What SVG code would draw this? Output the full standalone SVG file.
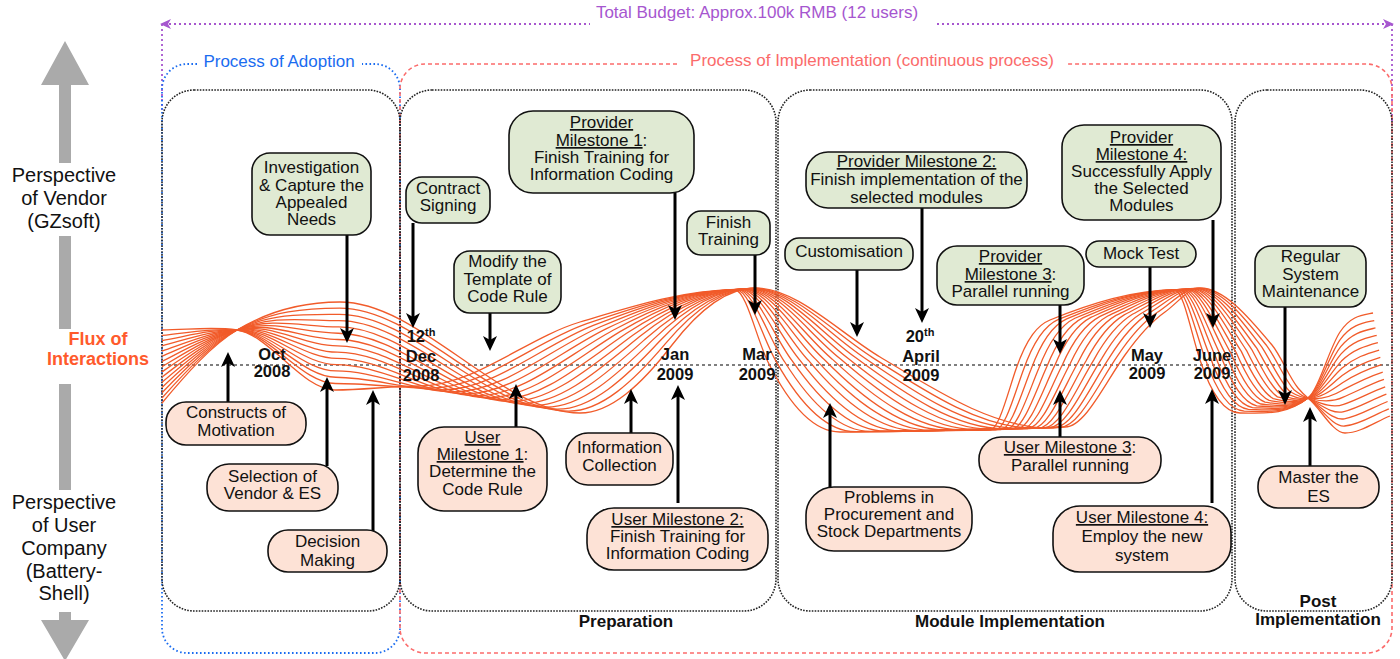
<svg xmlns="http://www.w3.org/2000/svg" width="1400" height="659" viewBox="0 0 1400 659">
<style>
text{font-family:"Liberation Sans",Arial,Helvetica,sans-serif}
.t{font-size:17px;text-anchor:middle;fill:#111}
.d{font-size:16.5px;font-weight:bold;text-anchor:middle;fill:#111}
.ph{font-size:17px;font-weight:bold;text-anchor:middle;fill:#111}
.side{font-size:20px;text-anchor:middle;fill:#111}
.g rect{fill:#e0ead3;stroke:#111;stroke-width:1.6}
.s rect{fill:#fde2d6;stroke:#111;stroke-width:1.6}
.u{text-decoration:underline}
.ar{stroke:#000;stroke-width:3;fill:none;marker-end:url(#ah)}
.phase{fill:none;stroke:#222;stroke-width:1.6;stroke-dasharray:1.6 1.3}
.w{fill:none;stroke:#f15b2a;stroke-width:1.3}
</style>
<defs>
<marker id="ah" markerUnits="userSpaceOnUse" markerWidth="16" markerHeight="16" viewBox="0 0 16 16" refX="5" refY="8" orient="auto"><path d="M0,1 L15,8 L0,15 L4,8 z" fill="#000"/></marker>
</defs>
<rect width="1400" height="659" fill="#fff"/>

<g id="side-labels">
<polygon points="65,41 89,85 71,85 71,163 59,163 59,85 41,85" fill="#aaa"/>
<rect x="59" y="236" width="12" height="93" fill="#aaa"/>
<rect x="59" y="384" width="12" height="106" fill="#aaa"/>
<polygon points="59,612 71,612 71,620 89,620 65,661 41,620 59,620" fill="#aaa"/>
<text class="side"><tspan x="64" y="182">Perspective</tspan><tspan x="64" y="205">of Vendor</tspan><tspan x="64" y="228">(GZsoft)</tspan></text>
<text class="side"><tspan x="64" y="509">Perspective</tspan><tspan x="64" y="532">of User</tspan><tspan x="64" y="555">Company</tspan><tspan x="64" y="578">(Battery-</tspan><tspan x="64" y="600">Shell)</tspan></text>
<text font-size="18" font-weight="bold" fill="#ff5a2c" text-anchor="middle" x="98" y="345">Flux of</text>
<text font-size="18" font-weight="bold" fill="#ff5a2c" text-anchor="middle" x="98" y="365">Interactions</text>
</g>

<g id="budget">
<path d="M169,24 H590 M937,24 H1385" stroke="#a656cf" stroke-width="1.8" stroke-dasharray="2 3" fill="none"/>
<path d="M162,24 V110 M1392,24 V130" stroke="#a656cf" stroke-width="1.8" stroke-dasharray="2 3" fill="none"/>
<polygon points="160,24 171,19 168,24 171,29" fill="#a656cf"/>
<polygon points="1394,24 1383,19 1386,24 1383,29" fill="#a656cf"/>
<text x="757" y="18" font-size="17" fill="#a656cf" text-anchor="middle">Total Budget: Approx.100k RMB (12 users)</text>
</g>

<g id="processes">
<path d="M197,64 H187 A25,25 0 0 0 162,89 V628 A25,25 0 0 0 187,653 H375 A25,25 0 0 0 400,628 V89 A25,25 0 0 0 375,64 H362" fill="none" stroke="#1a6cf0" stroke-width="1.8" stroke-dasharray="1.6 2.4"/>
<text x="279" y="67" font-size="17" fill="#1a6cf0" text-anchor="middle">Process of Adoption</text>
<path d="M677,64 H425 A25,25 0 0 0 400,89 V628 A25,25 0 0 0 425,653 H1367 A25,25 0 0 0 1392,628 V89 A25,25 0 0 0 1367,64 H1068" fill="none" stroke="#fb6b6b" stroke-width="1.6" stroke-dasharray="4 3"/>
<text x="872" y="66" font-size="17" fill="#fb6b6b" text-anchor="middle">Process of Implementation (continuous process)</text>
</g>

<g id="phases">
<rect class="phase" x="162" y="90" width="238" height="521" rx="32"/>
<rect class="phase" x="400" y="90" width="376" height="521" rx="32"/>
<rect class="phase" x="778" y="90" width="454" height="521" rx="32"/>
<rect class="phase" x="1235" y="90" width="157" height="521" rx="32"/>
<text class="ph" x="626" y="627">Preparation</text>
<text class="ph" x="1010" y="627">Module Implementation</text>
<text class="ph"><tspan x="1318" y="607">Post</tspan><tspan x="1318" y="625">Implementation</tspan></text>
</g>

<line x1="162" y1="365" x2="1392" y2="365" stroke="#000" stroke-width="1.2" stroke-dasharray="3 3"/>

<g id="flux">
<path id="w0" class="w" d="M162,330 C187,330 212,326.3 237,330 C269.7,334.9 302.3,390 335,390 C363.3,390 391.7,386 420,386 C473.3,386 526.7,338 580,322 C631.7,306.5 683.3,290 735,290 C746,290 757,340 768,362 C792,410 816,432 840,432 C890,432 940,430 990,430 C998.3,430 1006.7,397 1015,372 C1026.7,337 1038.3,324.7 1050,320 C1091.7,303.3 1133.3,290 1175,290 C1183.3,290 1191.7,335 1200,360 C1213.3,400 1226.7,413 1240,413 C1262.7,413 1285.3,416.1 1308,398 C1318.7,389.5 1329.3,348 1340,332 C1351,315.5 1362,315.2 1373,313"/>
<path id="w1" class="w" d="M162,330 C187,330 212,326.3 237,330 C269.7,334.9 302.3,390 335,390 C363.3,390 391.7,386 420,386 C473.3,386 526.7,338 580,322 C631.7,306.5 683.3,290 735,290 C746,290 757,340 768,362 C792,410 816,432 840,432 C890,432 940,430 990,430 C998.3,430 1006.7,397 1015,372 C1026.7,337 1038.3,324.7 1050,320 C1091.7,303.3 1133.3,290 1175,290 C1183.3,290 1191.7,335 1200,360 C1213.3,400 1226.7,413 1240,413 C1262.7,413 1285.3,416.1 1308,398 C1318.7,389.5 1329.3,348 1340,332 C1351,315.5 1362,315.2 1373,313"/>
<path id="w2" class="w" d="M162,330 C187,330 212,326.3 237,330 C269.7,334.9 302.3,390 335,390 C363.3,390 391.7,386 420,386 C473.3,386 526.7,338 580,322 C631.7,306.5 683.3,290 735,290 C746,290 757,340 768,362 C792,410 816,432 840,432 C890,432 940,430 990,430 C998.3,430 1006.7,397 1015,372 C1026.7,337 1038.3,324.7 1050,320 C1091.7,303.3 1133.3,290 1175,290 C1183.3,290 1191.7,335 1200,360 C1213.3,400 1226.7,413 1240,413 C1262.7,413 1285.3,416.1 1308,398 C1318.7,389.5 1329.3,348 1340,332 C1351,315.5 1362,315.2 1373,313"/>
<path id="w3" class="w" d="M162,330 C187,330 212,326.3 237,330 C269.7,334.9 302.3,390 335,390 C363.3,390 391.7,386 420,386 C473.3,386 526.7,338 580,322 C631.7,306.5 683.3,290 735,290 C746,290 757,340 768,362 C792,410 816,432 840,432 C890,432 940,430 990,430 C998.3,430 1006.7,397 1015,372 C1026.7,337 1038.3,324.7 1050,320 C1091.7,303.3 1133.3,290 1175,290 C1183.3,290 1191.7,335 1200,360 C1213.3,400 1226.7,413 1240,413 C1262.7,413 1285.3,416.1 1308,398 C1318.7,389.5 1329.3,348 1340,332 C1351,315.5 1362,315.2 1373,313"/>
<path id="w4" class="w" d="M162,330 C187,330 212,326.3 237,330 C269.7,334.9 302.3,390 335,390 C363.3,390 391.7,386 420,386 C473.3,386 526.7,338 580,322 C631.7,306.5 683.3,290 735,290 C746,290 757,340 768,362 C792,410 816,432 840,432 C890,432 940,430 990,430 C998.3,430 1006.7,397 1015,372 C1026.7,337 1038.3,324.7 1050,320 C1091.7,303.3 1133.3,290 1175,290 C1183.3,290 1191.7,335 1200,360 C1213.3,400 1226.7,413 1240,413 C1262.7,413 1285.3,416.1 1308,398 C1318.7,389.5 1329.3,348 1340,332 C1351,315.5 1362,315.2 1373,313"/>
<path id="w5" class="w" d="M162,330 C187,330 212,326.3 237,330 C269.7,334.9 302.3,390 335,390 C363.3,390 391.7,386 420,386 C473.3,386 526.7,338 580,322 C631.7,306.5 683.3,290 735,290 C746,290 757,340 768,362 C792,410 816,432 840,432 C890,432 940,430 990,430 C998.3,430 1006.7,397 1015,372 C1026.7,337 1038.3,324.7 1050,320 C1091.7,303.3 1133.3,290 1175,290 C1183.3,290 1191.7,335 1200,360 C1213.3,400 1226.7,413 1240,413 C1262.7,413 1285.3,416.1 1308,398 C1318.7,389.5 1329.3,348 1340,332 C1351,315.5 1362,315.2 1373,313"/>
<path id="w6" class="w" d="M162,330 C187,330 212,326.3 237,330 C269.7,334.9 302.3,390 335,390 C363.3,390 391.7,386 420,386 C473.3,386 526.7,338 580,322 C631.7,306.5 683.3,290 735,290 C746,290 757,340 768,362 C792,410 816,432 840,432 C890,432 940,430 990,430 C998.3,430 1006.7,397 1015,372 C1026.7,337 1038.3,324.7 1050,320 C1091.7,303.3 1133.3,290 1175,290 C1183.3,290 1191.7,335 1200,360 C1213.3,400 1226.7,413 1240,413 C1262.7,413 1285.3,416.1 1308,398 C1318.7,389.5 1329.3,348 1340,332 C1351,315.5 1362,315.2 1373,313"/>
<path id="w7" class="w" d="M162,330 C187,330 212,326.3 237,330 C269.7,334.9 302.3,390 335,390 C363.3,390 391.7,386 420,386 C473.3,386 526.7,338 580,322 C631.7,306.5 683.3,290 735,290 C746,290 757,340 768,362 C792,410 816,432 840,432 C890,432 940,430 990,430 C998.3,430 1006.7,397 1015,372 C1026.7,337 1038.3,324.7 1050,320 C1091.7,303.3 1133.3,290 1175,290 C1183.3,290 1191.7,335 1200,360 C1213.3,400 1226.7,413 1240,413 C1262.7,413 1285.3,416.1 1308,398 C1318.7,389.5 1329.3,348 1340,332 C1351,315.5 1362,315.2 1373,313"/>
<path id="w8" class="w" d="M162,330 C187,330 212,326.3 237,330 C269.7,334.9 302.3,390 335,390 C363.3,390 391.7,386 420,386 C473.3,386 526.7,338 580,322 C631.7,306.5 683.3,290 735,290 C746,290 757,340 768,362 C792,410 816,432 840,432 C890,432 940,430 990,430 C998.3,430 1006.7,397 1015,372 C1026.7,337 1038.3,324.7 1050,320 C1091.7,303.3 1133.3,290 1175,290 C1183.3,290 1191.7,335 1200,360 C1213.3,400 1226.7,413 1240,413 C1262.7,413 1285.3,416.1 1308,398 C1318.7,389.5 1329.3,348 1340,332 C1351,315.5 1362,315.2 1373,313"/>
<path id="w9" class="w" d="M162,330 C187,330 212,326.3 237,330 C269.7,334.9 302.3,390 335,390 C363.3,390 391.7,386 420,386 C473.3,386 526.7,338 580,322 C631.7,306.5 683.3,290 735,290 C746,290 757,340 768,362 C792,410 816,432 840,432 C890,432 940,430 990,430 C998.3,430 1006.7,397 1015,372 C1026.7,337 1038.3,324.7 1050,320 C1091.7,303.3 1133.3,290 1175,290 C1183.3,290 1191.7,335 1200,360 C1213.3,400 1226.7,413 1240,413 C1262.7,413 1285.3,416.1 1308,398 C1318.7,389.5 1329.3,348 1340,332 C1351,315.5 1362,315.2 1373,313"/>
<path id="w10" class="w" d="M162,330 C187,330 212,326.3 237,330 C269.7,334.9 302.3,390 335,390 C363.3,390 391.7,386 420,386 C473.3,386 526.7,338 580,322 C631.7,306.5 683.3,290 735,290 C746,290 757,340 768,362 C792,410 816,432 840,432 C890,432 940,430 990,430 C998.3,430 1006.7,397 1015,372 C1026.7,337 1038.3,324.7 1050,320 C1091.7,303.3 1133.3,290 1175,290 C1183.3,290 1191.7,335 1200,360 C1213.3,400 1226.7,413 1240,413 C1262.7,413 1285.3,416.1 1308,398 C1318.7,389.5 1329.3,348 1340,332 C1351,315.5 1362,315.2 1373,313"/>
<path id="w11" class="w" d="M162,330 C187,330 212,326.3 237,330 C269.7,334.9 302.3,390 335,390 C363.3,390 391.7,386 420,386 C473.3,386 526.7,338 580,322 C631.7,306.5 683.3,290 735,290 C746,290 757,340 768,362 C792,410 816,432 840,432 C890,432 940,430 990,430 C998.3,430 1006.7,397 1015,372 C1026.7,337 1038.3,324.7 1050,320 C1091.7,303.3 1133.3,290 1175,290 C1183.3,290 1191.7,335 1200,360 C1213.3,400 1226.7,413 1240,413 C1262.7,413 1285.3,416.1 1308,398 C1318.7,389.5 1329.3,348 1340,332 C1351,315.5 1362,315.2 1373,313"/>
<path id="w12" class="w" d="M162,330 C187,330 212,326.3 237,330 C269.7,334.9 302.3,390 335,390 C363.3,390 391.7,386 420,386 C473.3,386 526.7,338 580,322 C631.7,306.5 683.3,290 735,290 C746,290 757,340 768,362 C792,410 816,432 840,432 C890,432 940,430 990,430 C998.3,430 1006.7,397 1015,372 C1026.7,337 1038.3,324.7 1050,320 C1091.7,303.3 1133.3,290 1175,290 C1183.3,290 1191.7,335 1200,360 C1213.3,400 1226.7,413 1240,413 C1262.7,413 1285.3,416.1 1308,398 C1318.7,389.5 1329.3,348 1340,332 C1351,315.5 1362,315.2 1373,313"/>
<path id="w13" class="w" d="M162,330 C187,330 212,326.3 237,330 C269.7,334.9 302.3,390 335,390 C363.3,390 391.7,386 420,386 C473.3,386 526.7,338 580,322 C631.7,306.5 683.3,290 735,290 C746,290 757,340 768,362 C792,410 816,432 840,432 C890,432 940,430 990,430 C998.3,430 1006.7,397 1015,372 C1026.7,337 1038.3,324.7 1050,320 C1091.7,303.3 1133.3,290 1175,290 C1183.3,290 1191.7,335 1200,360 C1213.3,400 1226.7,413 1240,413 C1262.7,413 1285.3,416.1 1308,398 C1318.7,389.5 1329.3,348 1340,332 C1351,315.5 1362,315.2 1373,313"/>
<path id="w14" class="w" d="M162,403 C187,373 212,345 237,330 C271.3,309.4 305.7,302 340,302 C420,302 500,413 580,413 C610.7,413 641.3,384.9 672,345 C699.7,309 727.3,288 755,288 C796.7,288 838.3,332 880,357 C936.7,391 993.3,428 1050,428 C1055,428 1060,427 1065,427 C1085,427 1105,383 1125,355 C1138.3,336.3 1151.7,321.3 1165,312 C1176.7,303.8 1188.3,288 1200,288 C1224,288 1248,316.2 1272,345 C1280.7,355.4 1289.3,377.6 1298,388 C1301.3,392 1304.7,395.3 1308,398 C1320.3,407.9 1332.7,433 1345,433 C1360,433 1375,422 1390,416"/>
<animate href="#w1" attributeName="d" dur="1000s" begin="-71.4s" fill="freeze" values="M162,330 C187,330 212,326.3 237,330 C269.7,334.9 302.3,390 335,390 C363.3,390 391.7,386 420,386 C473.3,386 526.7,338 580,322 C631.7,306.5 683.3,290 735,290 C746,290 757,340 768,362 C792,410 816,432 840,432 C890,432 940,430 990,430 C998.3,430 1006.7,397 1015,372 C1026.7,337 1038.3,324.7 1050,320 C1091.7,303.3 1133.3,290 1175,290 C1183.3,290 1191.7,335 1200,360 C1213.3,400 1226.7,413 1240,413 C1262.7,413 1285.3,416.1 1308,398 C1318.7,389.5 1329.3,348 1340,332 C1351,315.5 1362,315.2 1373,313;M162,403 C187,373 212,345 237,330 C271.3,309.4 305.7,302 340,302 C420,302 500,413 580,413 C610.7,413 641.3,384.9 672,345 C699.7,309 727.3,288 755,288 C796.7,288 838.3,332 880,357 C936.7,391 993.3,428 1050,428 C1055,428 1060,427 1065,427 C1085,427 1105,383 1125,355 C1138.3,336.3 1151.7,321.3 1165,312 C1176.7,303.8 1188.3,288 1200,288 C1224,288 1248,316.2 1272,345 C1280.7,355.4 1289.3,377.6 1298,388 C1301.3,392 1304.7,395.3 1308,398 C1320.3,407.9 1332.7,433 1345,433 C1360,433 1375,422 1390,416"/>
<animate href="#w2" attributeName="d" dur="1000s" begin="-142.9s" fill="freeze" values="M162,330 C187,330 212,326.3 237,330 C269.7,334.9 302.3,390 335,390 C363.3,390 391.7,386 420,386 C473.3,386 526.7,338 580,322 C631.7,306.5 683.3,290 735,290 C746,290 757,340 768,362 C792,410 816,432 840,432 C890,432 940,430 990,430 C998.3,430 1006.7,397 1015,372 C1026.7,337 1038.3,324.7 1050,320 C1091.7,303.3 1133.3,290 1175,290 C1183.3,290 1191.7,335 1200,360 C1213.3,400 1226.7,413 1240,413 C1262.7,413 1285.3,416.1 1308,398 C1318.7,389.5 1329.3,348 1340,332 C1351,315.5 1362,315.2 1373,313;M162,403 C187,373 212,345 237,330 C271.3,309.4 305.7,302 340,302 C420,302 500,413 580,413 C610.7,413 641.3,384.9 672,345 C699.7,309 727.3,288 755,288 C796.7,288 838.3,332 880,357 C936.7,391 993.3,428 1050,428 C1055,428 1060,427 1065,427 C1085,427 1105,383 1125,355 C1138.3,336.3 1151.7,321.3 1165,312 C1176.7,303.8 1188.3,288 1200,288 C1224,288 1248,316.2 1272,345 C1280.7,355.4 1289.3,377.6 1298,388 C1301.3,392 1304.7,395.3 1308,398 C1320.3,407.9 1332.7,433 1345,433 C1360,433 1375,422 1390,416"/>
<animate href="#w3" attributeName="d" dur="1000s" begin="-214.3s" fill="freeze" values="M162,330 C187,330 212,326.3 237,330 C269.7,334.9 302.3,390 335,390 C363.3,390 391.7,386 420,386 C473.3,386 526.7,338 580,322 C631.7,306.5 683.3,290 735,290 C746,290 757,340 768,362 C792,410 816,432 840,432 C890,432 940,430 990,430 C998.3,430 1006.7,397 1015,372 C1026.7,337 1038.3,324.7 1050,320 C1091.7,303.3 1133.3,290 1175,290 C1183.3,290 1191.7,335 1200,360 C1213.3,400 1226.7,413 1240,413 C1262.7,413 1285.3,416.1 1308,398 C1318.7,389.5 1329.3,348 1340,332 C1351,315.5 1362,315.2 1373,313;M162,403 C187,373 212,345 237,330 C271.3,309.4 305.7,302 340,302 C420,302 500,413 580,413 C610.7,413 641.3,384.9 672,345 C699.7,309 727.3,288 755,288 C796.7,288 838.3,332 880,357 C936.7,391 993.3,428 1050,428 C1055,428 1060,427 1065,427 C1085,427 1105,383 1125,355 C1138.3,336.3 1151.7,321.3 1165,312 C1176.7,303.8 1188.3,288 1200,288 C1224,288 1248,316.2 1272,345 C1280.7,355.4 1289.3,377.6 1298,388 C1301.3,392 1304.7,395.3 1308,398 C1320.3,407.9 1332.7,433 1345,433 C1360,433 1375,422 1390,416"/>
<animate href="#w4" attributeName="d" dur="1000s" begin="-285.7s" fill="freeze" values="M162,330 C187,330 212,326.3 237,330 C269.7,334.9 302.3,390 335,390 C363.3,390 391.7,386 420,386 C473.3,386 526.7,338 580,322 C631.7,306.5 683.3,290 735,290 C746,290 757,340 768,362 C792,410 816,432 840,432 C890,432 940,430 990,430 C998.3,430 1006.7,397 1015,372 C1026.7,337 1038.3,324.7 1050,320 C1091.7,303.3 1133.3,290 1175,290 C1183.3,290 1191.7,335 1200,360 C1213.3,400 1226.7,413 1240,413 C1262.7,413 1285.3,416.1 1308,398 C1318.7,389.5 1329.3,348 1340,332 C1351,315.5 1362,315.2 1373,313;M162,403 C187,373 212,345 237,330 C271.3,309.4 305.7,302 340,302 C420,302 500,413 580,413 C610.7,413 641.3,384.9 672,345 C699.7,309 727.3,288 755,288 C796.7,288 838.3,332 880,357 C936.7,391 993.3,428 1050,428 C1055,428 1060,427 1065,427 C1085,427 1105,383 1125,355 C1138.3,336.3 1151.7,321.3 1165,312 C1176.7,303.8 1188.3,288 1200,288 C1224,288 1248,316.2 1272,345 C1280.7,355.4 1289.3,377.6 1298,388 C1301.3,392 1304.7,395.3 1308,398 C1320.3,407.9 1332.7,433 1345,433 C1360,433 1375,422 1390,416"/>
<animate href="#w5" attributeName="d" dur="1000s" begin="-357.1s" fill="freeze" values="M162,330 C187,330 212,326.3 237,330 C269.7,334.9 302.3,390 335,390 C363.3,390 391.7,386 420,386 C473.3,386 526.7,338 580,322 C631.7,306.5 683.3,290 735,290 C746,290 757,340 768,362 C792,410 816,432 840,432 C890,432 940,430 990,430 C998.3,430 1006.7,397 1015,372 C1026.7,337 1038.3,324.7 1050,320 C1091.7,303.3 1133.3,290 1175,290 C1183.3,290 1191.7,335 1200,360 C1213.3,400 1226.7,413 1240,413 C1262.7,413 1285.3,416.1 1308,398 C1318.7,389.5 1329.3,348 1340,332 C1351,315.5 1362,315.2 1373,313;M162,403 C187,373 212,345 237,330 C271.3,309.4 305.7,302 340,302 C420,302 500,413 580,413 C610.7,413 641.3,384.9 672,345 C699.7,309 727.3,288 755,288 C796.7,288 838.3,332 880,357 C936.7,391 993.3,428 1050,428 C1055,428 1060,427 1065,427 C1085,427 1105,383 1125,355 C1138.3,336.3 1151.7,321.3 1165,312 C1176.7,303.8 1188.3,288 1200,288 C1224,288 1248,316.2 1272,345 C1280.7,355.4 1289.3,377.6 1298,388 C1301.3,392 1304.7,395.3 1308,398 C1320.3,407.9 1332.7,433 1345,433 C1360,433 1375,422 1390,416"/>
<animate href="#w6" attributeName="d" dur="1000s" begin="-428.6s" fill="freeze" values="M162,330 C187,330 212,326.3 237,330 C269.7,334.9 302.3,390 335,390 C363.3,390 391.7,386 420,386 C473.3,386 526.7,338 580,322 C631.7,306.5 683.3,290 735,290 C746,290 757,340 768,362 C792,410 816,432 840,432 C890,432 940,430 990,430 C998.3,430 1006.7,397 1015,372 C1026.7,337 1038.3,324.7 1050,320 C1091.7,303.3 1133.3,290 1175,290 C1183.3,290 1191.7,335 1200,360 C1213.3,400 1226.7,413 1240,413 C1262.7,413 1285.3,416.1 1308,398 C1318.7,389.5 1329.3,348 1340,332 C1351,315.5 1362,315.2 1373,313;M162,403 C187,373 212,345 237,330 C271.3,309.4 305.7,302 340,302 C420,302 500,413 580,413 C610.7,413 641.3,384.9 672,345 C699.7,309 727.3,288 755,288 C796.7,288 838.3,332 880,357 C936.7,391 993.3,428 1050,428 C1055,428 1060,427 1065,427 C1085,427 1105,383 1125,355 C1138.3,336.3 1151.7,321.3 1165,312 C1176.7,303.8 1188.3,288 1200,288 C1224,288 1248,316.2 1272,345 C1280.7,355.4 1289.3,377.6 1298,388 C1301.3,392 1304.7,395.3 1308,398 C1320.3,407.9 1332.7,433 1345,433 C1360,433 1375,422 1390,416"/>
<animate href="#w7" attributeName="d" dur="1000s" begin="-500s" fill="freeze" values="M162,330 C187,330 212,326.3 237,330 C269.7,334.9 302.3,390 335,390 C363.3,390 391.7,386 420,386 C473.3,386 526.7,338 580,322 C631.7,306.5 683.3,290 735,290 C746,290 757,340 768,362 C792,410 816,432 840,432 C890,432 940,430 990,430 C998.3,430 1006.7,397 1015,372 C1026.7,337 1038.3,324.7 1050,320 C1091.7,303.3 1133.3,290 1175,290 C1183.3,290 1191.7,335 1200,360 C1213.3,400 1226.7,413 1240,413 C1262.7,413 1285.3,416.1 1308,398 C1318.7,389.5 1329.3,348 1340,332 C1351,315.5 1362,315.2 1373,313;M162,403 C187,373 212,345 237,330 C271.3,309.4 305.7,302 340,302 C420,302 500,413 580,413 C610.7,413 641.3,384.9 672,345 C699.7,309 727.3,288 755,288 C796.7,288 838.3,332 880,357 C936.7,391 993.3,428 1050,428 C1055,428 1060,427 1065,427 C1085,427 1105,383 1125,355 C1138.3,336.3 1151.7,321.3 1165,312 C1176.7,303.8 1188.3,288 1200,288 C1224,288 1248,316.2 1272,345 C1280.7,355.4 1289.3,377.6 1298,388 C1301.3,392 1304.7,395.3 1308,398 C1320.3,407.9 1332.7,433 1345,433 C1360,433 1375,422 1390,416"/>
<animate href="#w8" attributeName="d" dur="1000s" begin="-571.4s" fill="freeze" values="M162,330 C187,330 212,326.3 237,330 C269.7,334.9 302.3,390 335,390 C363.3,390 391.7,386 420,386 C473.3,386 526.7,338 580,322 C631.7,306.5 683.3,290 735,290 C746,290 757,340 768,362 C792,410 816,432 840,432 C890,432 940,430 990,430 C998.3,430 1006.7,397 1015,372 C1026.7,337 1038.3,324.7 1050,320 C1091.7,303.3 1133.3,290 1175,290 C1183.3,290 1191.7,335 1200,360 C1213.3,400 1226.7,413 1240,413 C1262.7,413 1285.3,416.1 1308,398 C1318.7,389.5 1329.3,348 1340,332 C1351,315.5 1362,315.2 1373,313;M162,403 C187,373 212,345 237,330 C271.3,309.4 305.7,302 340,302 C420,302 500,413 580,413 C610.7,413 641.3,384.9 672,345 C699.7,309 727.3,288 755,288 C796.7,288 838.3,332 880,357 C936.7,391 993.3,428 1050,428 C1055,428 1060,427 1065,427 C1085,427 1105,383 1125,355 C1138.3,336.3 1151.7,321.3 1165,312 C1176.7,303.8 1188.3,288 1200,288 C1224,288 1248,316.2 1272,345 C1280.7,355.4 1289.3,377.6 1298,388 C1301.3,392 1304.7,395.3 1308,398 C1320.3,407.9 1332.7,433 1345,433 C1360,433 1375,422 1390,416"/>
<animate href="#w9" attributeName="d" dur="1000s" begin="-642.9s" fill="freeze" values="M162,330 C187,330 212,326.3 237,330 C269.7,334.9 302.3,390 335,390 C363.3,390 391.7,386 420,386 C473.3,386 526.7,338 580,322 C631.7,306.5 683.3,290 735,290 C746,290 757,340 768,362 C792,410 816,432 840,432 C890,432 940,430 990,430 C998.3,430 1006.7,397 1015,372 C1026.7,337 1038.3,324.7 1050,320 C1091.7,303.3 1133.3,290 1175,290 C1183.3,290 1191.7,335 1200,360 C1213.3,400 1226.7,413 1240,413 C1262.7,413 1285.3,416.1 1308,398 C1318.7,389.5 1329.3,348 1340,332 C1351,315.5 1362,315.2 1373,313;M162,403 C187,373 212,345 237,330 C271.3,309.4 305.7,302 340,302 C420,302 500,413 580,413 C610.7,413 641.3,384.9 672,345 C699.7,309 727.3,288 755,288 C796.7,288 838.3,332 880,357 C936.7,391 993.3,428 1050,428 C1055,428 1060,427 1065,427 C1085,427 1105,383 1125,355 C1138.3,336.3 1151.7,321.3 1165,312 C1176.7,303.8 1188.3,288 1200,288 C1224,288 1248,316.2 1272,345 C1280.7,355.4 1289.3,377.6 1298,388 C1301.3,392 1304.7,395.3 1308,398 C1320.3,407.9 1332.7,433 1345,433 C1360,433 1375,422 1390,416"/>
<animate href="#w10" attributeName="d" dur="1000s" begin="-714.3s" fill="freeze" values="M162,330 C187,330 212,326.3 237,330 C269.7,334.9 302.3,390 335,390 C363.3,390 391.7,386 420,386 C473.3,386 526.7,338 580,322 C631.7,306.5 683.3,290 735,290 C746,290 757,340 768,362 C792,410 816,432 840,432 C890,432 940,430 990,430 C998.3,430 1006.7,397 1015,372 C1026.7,337 1038.3,324.7 1050,320 C1091.7,303.3 1133.3,290 1175,290 C1183.3,290 1191.7,335 1200,360 C1213.3,400 1226.7,413 1240,413 C1262.7,413 1285.3,416.1 1308,398 C1318.7,389.5 1329.3,348 1340,332 C1351,315.5 1362,315.2 1373,313;M162,403 C187,373 212,345 237,330 C271.3,309.4 305.7,302 340,302 C420,302 500,413 580,413 C610.7,413 641.3,384.9 672,345 C699.7,309 727.3,288 755,288 C796.7,288 838.3,332 880,357 C936.7,391 993.3,428 1050,428 C1055,428 1060,427 1065,427 C1085,427 1105,383 1125,355 C1138.3,336.3 1151.7,321.3 1165,312 C1176.7,303.8 1188.3,288 1200,288 C1224,288 1248,316.2 1272,345 C1280.7,355.4 1289.3,377.6 1298,388 C1301.3,392 1304.7,395.3 1308,398 C1320.3,407.9 1332.7,433 1345,433 C1360,433 1375,422 1390,416"/>
<animate href="#w11" attributeName="d" dur="1000s" begin="-785.7s" fill="freeze" values="M162,330 C187,330 212,326.3 237,330 C269.7,334.9 302.3,390 335,390 C363.3,390 391.7,386 420,386 C473.3,386 526.7,338 580,322 C631.7,306.5 683.3,290 735,290 C746,290 757,340 768,362 C792,410 816,432 840,432 C890,432 940,430 990,430 C998.3,430 1006.7,397 1015,372 C1026.7,337 1038.3,324.7 1050,320 C1091.7,303.3 1133.3,290 1175,290 C1183.3,290 1191.7,335 1200,360 C1213.3,400 1226.7,413 1240,413 C1262.7,413 1285.3,416.1 1308,398 C1318.7,389.5 1329.3,348 1340,332 C1351,315.5 1362,315.2 1373,313;M162,403 C187,373 212,345 237,330 C271.3,309.4 305.7,302 340,302 C420,302 500,413 580,413 C610.7,413 641.3,384.9 672,345 C699.7,309 727.3,288 755,288 C796.7,288 838.3,332 880,357 C936.7,391 993.3,428 1050,428 C1055,428 1060,427 1065,427 C1085,427 1105,383 1125,355 C1138.3,336.3 1151.7,321.3 1165,312 C1176.7,303.8 1188.3,288 1200,288 C1224,288 1248,316.2 1272,345 C1280.7,355.4 1289.3,377.6 1298,388 C1301.3,392 1304.7,395.3 1308,398 C1320.3,407.9 1332.7,433 1345,433 C1360,433 1375,422 1390,416"/>
<animate href="#w12" attributeName="d" dur="1000s" begin="-857.1s" fill="freeze" values="M162,330 C187,330 212,326.3 237,330 C269.7,334.9 302.3,390 335,390 C363.3,390 391.7,386 420,386 C473.3,386 526.7,338 580,322 C631.7,306.5 683.3,290 735,290 C746,290 757,340 768,362 C792,410 816,432 840,432 C890,432 940,430 990,430 C998.3,430 1006.7,397 1015,372 C1026.7,337 1038.3,324.7 1050,320 C1091.7,303.3 1133.3,290 1175,290 C1183.3,290 1191.7,335 1200,360 C1213.3,400 1226.7,413 1240,413 C1262.7,413 1285.3,416.1 1308,398 C1318.7,389.5 1329.3,348 1340,332 C1351,315.5 1362,315.2 1373,313;M162,403 C187,373 212,345 237,330 C271.3,309.4 305.7,302 340,302 C420,302 500,413 580,413 C610.7,413 641.3,384.9 672,345 C699.7,309 727.3,288 755,288 C796.7,288 838.3,332 880,357 C936.7,391 993.3,428 1050,428 C1055,428 1060,427 1065,427 C1085,427 1105,383 1125,355 C1138.3,336.3 1151.7,321.3 1165,312 C1176.7,303.8 1188.3,288 1200,288 C1224,288 1248,316.2 1272,345 C1280.7,355.4 1289.3,377.6 1298,388 C1301.3,392 1304.7,395.3 1308,398 C1320.3,407.9 1332.7,433 1345,433 C1360,433 1375,422 1390,416"/>
<animate href="#w13" attributeName="d" dur="1000s" begin="-928.6s" fill="freeze" values="M162,330 C187,330 212,326.3 237,330 C269.7,334.9 302.3,390 335,390 C363.3,390 391.7,386 420,386 C473.3,386 526.7,338 580,322 C631.7,306.5 683.3,290 735,290 C746,290 757,340 768,362 C792,410 816,432 840,432 C890,432 940,430 990,430 C998.3,430 1006.7,397 1015,372 C1026.7,337 1038.3,324.7 1050,320 C1091.7,303.3 1133.3,290 1175,290 C1183.3,290 1191.7,335 1200,360 C1213.3,400 1226.7,413 1240,413 C1262.7,413 1285.3,416.1 1308,398 C1318.7,389.5 1329.3,348 1340,332 C1351,315.5 1362,315.2 1373,313;M162,403 C187,373 212,345 237,330 C271.3,309.4 305.7,302 340,302 C420,302 500,413 580,413 C610.7,413 641.3,384.9 672,345 C699.7,309 727.3,288 755,288 C796.7,288 838.3,332 880,357 C936.7,391 993.3,428 1050,428 C1055,428 1060,427 1065,427 C1085,427 1105,383 1125,355 C1138.3,336.3 1151.7,321.3 1165,312 C1176.7,303.8 1188.3,288 1200,288 C1224,288 1248,316.2 1272,345 C1280.7,355.4 1289.3,377.6 1298,388 C1301.3,392 1304.7,395.3 1308,398 C1320.3,407.9 1332.7,433 1345,433 C1360,433 1375,422 1390,416"/>
</g>

<g id="dates">
<text class="d"><tspan x="272" y="360">Oct</tspan><tspan x="272" y="377">2008</tspan></text>
<text class="d"><tspan x="421" y="342">12<tspan font-size="11" dy="-6">th</tspan></tspan><tspan x="421" y="362">Dec</tspan><tspan x="421" y="381">2008</tspan></text>
<text class="d"><tspan x="675" y="360">Jan</tspan><tspan x="675" y="380">2009</tspan></text>
<text class="d"><tspan x="757" y="360">Mar</tspan><tspan x="757" y="380">2009</tspan></text>
<text class="d"><tspan x="920" y="342">20<tspan font-size="11" dy="-6">th</tspan></tspan><tspan x="921" y="362">April</tspan><tspan x="921" y="381">2009</tspan></text>
<text class="d"><tspan x="1147" y="361">May</tspan><tspan x="1147" y="379">2009</tspan></text>
<text class="d"><tspan x="1212" y="361">June</tspan><tspan x="1212" y="379">2009</tspan></text>
</g>

<g id="connectors">
<line class="ar" x1="347" y1="235" x2="347" y2="333"/>
<line class="ar" x1="413" y1="223" x2="413" y2="318"/>
<line class="ar" x1="490" y1="313" x2="490" y2="341"/>
<line class="ar" x1="675" y1="193" x2="675" y2="310"/>
<line class="ar" x1="755" y1="255" x2="755" y2="305"/>
<line class="ar" x1="857" y1="270" x2="857" y2="327"/>
<line class="ar" x1="922" y1="208" x2="922" y2="313"/>
<line class="ar" x1="1060" y1="305" x2="1060" y2="344"/>
<line class="ar" x1="1150" y1="267" x2="1150" y2="318"/>
<line class="ar" x1="1213" y1="220" x2="1213" y2="318"/>
<line class="ar" x1="1285" y1="307" x2="1285" y2="395"/>
<line class="ar" x1="228" y1="402" x2="228" y2="362"/>
<line class="ar" x1="327" y1="466" x2="327" y2="387"/>
<line class="ar" x1="373" y1="532" x2="373" y2="400"/>
<line class="ar" x1="516" y1="427" x2="516" y2="394"/>
<line class="ar" x1="631" y1="433" x2="631" y2="399"/>
<line class="ar" x1="678" y1="503" x2="678" y2="395"/>
<line class="ar" x1="830" y1="487" x2="830" y2="413"/>
<line class="ar" x1="1060" y1="437" x2="1060" y2="400"/>
<line class="ar" x1="1212" y1="503" x2="1212" y2="399"/>
<line class="ar" x1="1310" y1="466" x2="1310" y2="417"/>
</g>

<g id="n-investigation" class="g"><rect x="252" y="153" width="119" height="82" rx="18"/><text class="t"><tspan x="311.5" y="173">Investigation</tspan><tspan x="311.5" y="191">&amp; Capture the</tspan><tspan x="311.5" y="208">Appealed</tspan><tspan x="311.5" y="225">Needs</tspan></text></g>
<g id="n-contract" class="g"><rect x="406" y="177" width="84" height="46" rx="16"/><text class="t"><tspan x="448" y="194">Contract</tspan><tspan x="448" y="211">Signing</tspan></text></g>
<g id="n-modify" class="g"><rect x="454" y="251" width="107" height="62" rx="16"/><text class="t"><tspan x="507.5" y="267">Modify the</tspan><tspan x="507.5" y="285">Template of</tspan><tspan x="507.5" y="302">Code Rule</tspan></text></g>
<g id="n-pm1" class="g"><rect x="509" y="111" width="185" height="82" rx="24"/><text class="t"><tspan x="601.5" y="128" class="u">Provider</tspan><tspan x="601.5" y="146"><tspan class="u">Milestone 1</tspan>:</tspan><tspan x="601.5" y="163">Finish Training for</tspan><tspan x="601.5" y="180">Information Coding</tspan></text></g>
<g id="n-finish" class="g"><rect x="687" y="211" width="83" height="44" rx="14"/><text class="t"><tspan x="728.5" y="228">Finish</tspan><tspan x="728.5" y="245">Training</tspan></text></g>
<g id="n-custom" class="g"><rect x="785" y="238" width="128" height="32" rx="14"/><text class="t" x="849" y="257">Customisation</text></g>
<g id="n-pm2" class="g"><rect x="806" y="152" width="221" height="56" rx="22"/><text class="t"><tspan x="916.5" y="167" class="u">Provider Milestone 2:</tspan><tspan x="916.5" y="185">Finish implementation of the</tspan><tspan x="916.5" y="203">selected modules</tspan></text></g>
<g id="n-pm3" class="g"><rect x="937" y="246" width="147" height="59" rx="20"/><text class="t"><tspan x="1010.5" y="262" class="u">Provider</tspan><tspan x="1010.5" y="280"><tspan class="u">Milestone 3</tspan>:</tspan><tspan x="1010.5" y="297">Parallel running</tspan></text></g>
<g id="n-mock" class="g"><rect x="1086" y="241" width="110" height="26" rx="13"/><text class="t" x="1141" y="259">Mock Test</text></g>
<g id="n-pm4" class="g"><rect x="1062" y="125" width="159" height="95" rx="22"/><text class="t"><tspan x="1141.5" y="143" class="u">Provider</tspan><tspan x="1141.5" y="160" class="u">Milestone 4:</tspan><tspan x="1141.5" y="177">Successfully Apply</tspan><tspan x="1141.5" y="194">the Selected</tspan><tspan x="1141.5" y="211">Modules</tspan></text></g>
<g id="n-regular" class="g"><rect x="1255" y="246" width="111" height="61" rx="16"/><text class="t"><tspan x="1310.5" y="262">Regular</tspan><tspan x="1310.5" y="280">System</tspan><tspan x="1310.5" y="297">Maintenance</tspan></text></g>

<g id="n-constructs" class="s"><rect x="166" y="402" width="140" height="43" rx="20"/><text class="t"><tspan x="236" y="418">Constructs of</tspan><tspan x="236" y="436">Motivation</tspan></text></g>
<g id="n-selection" class="s"><rect x="207" y="464" width="131" height="47" rx="22"/><text class="t"><tspan x="272.5" y="482">Selection of</tspan><tspan x="272.5" y="499">Vendor &amp; ES</tspan></text></g>
<g id="n-decision" class="s"><rect x="268" y="530" width="119" height="42" rx="20"/><text class="t"><tspan x="327.5" y="547">Decision</tspan><tspan x="327.5" y="566">Making</tspan></text></g>
<g id="n-um1" class="s"><rect x="418" y="427" width="129" height="84" rx="26"/><text class="t"><tspan x="482.5" y="443" class="u">User</tspan><tspan x="482.5" y="460"><tspan class="u">Milestone 1</tspan>:</tspan><tspan x="482.5" y="477">Determine the</tspan><tspan x="482.5" y="495">Code Rule</tspan></text></g>
<g id="n-info" class="s"><rect x="566" y="433" width="107" height="52" rx="22"/><text class="t"><tspan x="619.5" y="453">Information</tspan><tspan x="619.5" y="471">Collection</tspan></text></g>
<g id="n-um2" class="s"><rect x="587" y="508" width="181" height="62" rx="27"/><text class="t"><tspan x="677.5" y="525" class="u">User Milestone 2:</tspan><tspan x="677.5" y="542">Finish Training for</tspan><tspan x="677.5" y="559">Information Coding</tspan></text></g>
<g id="n-problems" class="s"><rect x="806" y="487" width="166" height="64" rx="28"/><text class="t"><tspan x="889" y="503">Problems in</tspan><tspan x="889" y="520">Procurement and</tspan><tspan x="889" y="537">Stock Departments</tspan></text></g>
<g id="n-um3" class="s"><rect x="979" y="437" width="182" height="46" rx="22"/><text class="t"><tspan x="1070" y="453"><tspan class="u">User Milestone 3</tspan>:</tspan><tspan x="1070" y="471">Parallel running</tspan></text></g>
<g id="n-um4" class="s"><rect x="1053" y="506" width="178" height="66" rx="27"/><text class="t"><tspan x="1142" y="523" class="u">User Milestone 4:</tspan><tspan x="1142" y="542">Employ the new</tspan><tspan x="1142" y="561">system</tspan></text></g>
<g id="n-master" class="s"><rect x="1258" y="466" width="121" height="42" rx="20"/><text class="t"><tspan x="1318.5" y="483">Master the</tspan><tspan x="1318.5" y="502">ES</tspan></text></g>
</svg>
